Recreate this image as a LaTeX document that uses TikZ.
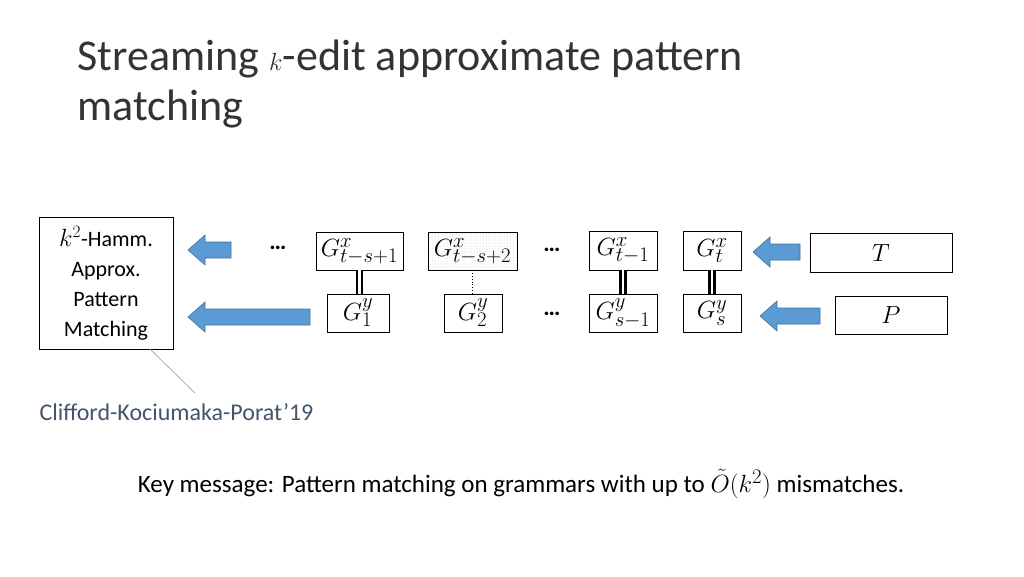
\documentclass[tikz,border=0pt]{standalone}
\usepackage{fontspec}
\setmainfont{Carlito}
\usetikzlibrary{patterns}
\definecolor{ablue}{HTML}{5B9BD5}
\definecolor{aedge}{HTML}{41719C}
\definecolor{cite}{HTML}{44546A}
\begin{document}
\begin{tikzpicture}[x=1pt,y=-1pt,
  gbox/.style={draw,line width=0.8pt,inner sep=0pt,font=\fontsize{28}{30}\selectfont},
  dbl/.style={double,double distance=2.5pt,line width=2.5pt}]
\useasboundingbox (0,0) rectangle (1024,576);
\node[anchor=west,font=\fontsize{44}{50}\selectfont,align=left,text=black!80] (title) at (74,84)
  {Streaming {\fontsize{52}{50}\selectfont$k$}-edit approximate pattern\\matching};
\node[draw,line width=0.8pt,minimum width=134pt,minimum height=132pt,align=center,
  font=\fontsize{22}{30}\selectfont] (L) at (106,283) {{\fontsize{26}{30}\selectfont$k^2$}-Hamm.\\Approx.\\Pattern\\Matching};
\newcommand{\barrow}[3]{\filldraw[fill=ablue,draw=aedge,line width=0.6pt]
  (#1,#3) -- (#1+17,#3-15) -- (#1+17,#3-8) -- (#2,#3-8) -- (#2,#3+8) -- (#1+17,#3+8) -- (#1+17,#3+15) -- cycle;}
\barrow{188}{231}{250}
\barrow{188}{310}{317}
\barrow{753}{800}{252}
\barrow{760}{820}{316}
\node[gbox,minimum width=87pt,minimum height=38pt] (x1) at (359.5,251) {$G^x_{t-s+1}$};
\node[gbox,minimum width=62pt,minimum height=38pt] (y1) at (358,313) {$G^y_1$};
\node[gbox,minimum width=89pt,minimum height=38pt,pattern=dots,pattern color=black!25] (x2) at (472.5,251) {};
\node[font=\fontsize{28}{30}\selectfont] at (x2) {$G^x_{t-s+2}$};
\node[gbox,minimum width=58pt,minimum height=38pt] (y2) at (473,313) {$G^y_2$};
\node[gbox,minimum width=68pt,minimum height=39pt] (x3) at (623,250.5) {$G^x_{t-1}$};
\node[gbox,minimum width=68pt,minimum height=38pt] (y3) at (623,313) {$G^y_{s-1}$};
\node[gbox,minimum width=58pt,minimum height=39pt] (x4) at (712,250.5) {$G^x_t$};
\node[gbox,minimum width=58pt,minimum height=38pt] (y4) at (712,313) {$G^y_s$};
\draw[dbl] (x1.south) -- (x1.south |- y1.north);
\draw[dotted,line width=0.8pt] (x2.south) -- (x2.south |- y2.north);
\draw[dbl] (x3) -- (y3);
\draw[dbl] (x4) -- (y4);
\node[gbox,minimum width=142pt,minimum height=39pt] (T) at (881,252.5) {$T$};
\node[gbox,minimum width=112pt,minimum height=38pt] (P) at (891,315) {$P$};
\node[font=\fontsize{24}{26}\selectfont\bfseries] (d1) at (278,248) {…};
\node[font=\fontsize{24}{26}\selectfont\bfseries] (d2) at (552,250) {…};
\node[font=\fontsize{24}{26}\selectfont\bfseries] (d3) at (552,314) {…};
\node[anchor=west,text=cite,font=\fontsize{24}{26}\selectfont] (c) at (36,412) {Clifford-Kociumaka-Porat’19};
\coordinate (cl) at (150,349);
\coordinate (cr) at (195,393);
\draw[black!40,line width=0.6pt] (cl) -- (cr);
\node[font=\fontsize{25}{28}\selectfont] (key) at (521,484) {Key message: Pattern matching on grammars with up to {\fontsize{28}{28}\selectfont$\tilde O(k^2)$} mismatches.};
\end{tikzpicture}
\end{document}
